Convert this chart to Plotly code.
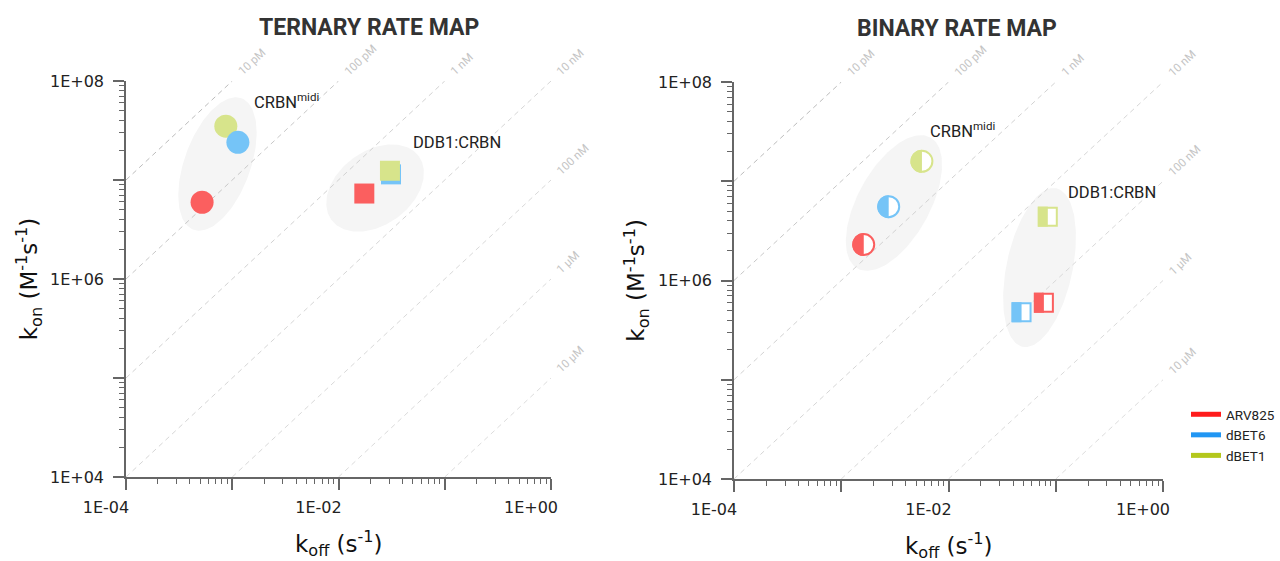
import numpy as np
import plotly.graph_objects as go

W, H = 1280, 561

# ---------------- data ----------------
compounds = ["ARV825", "dBET6", "dBET1"]
legend_colors = ["#ff1c1c", "#2196f3", "#b4c71c"]
marker_colors = ["#fb5f5f", "#75c4f7", "#d7e48b"]

# Ternary complexes (koff in s^-1, kon in M^-1 s^-1), order: ARV825, dBET6, dBET1
ter_midi_koff = [5.2e-4, 1.13e-3, 8.7e-4]
ter_midi_kon = [5.96e6, 2.4e7, 3.5e7]
ter_ddb1_koff = [1.75e-2, 3.12e-2, 3.05e-2]
ter_ddb1_kon = [7.3e6, 1.14e7, 1.24e7]

# Binary complexes
bin_midi_koff = [1.62e-3, 2.77e-3, 5.65e-3]
bin_midi_kon = [2.3e6, 5.55e6, 1.59e7]
bin_ddb1_koff = [7.75e-2, 4.8e-2, 8.43e-2]
bin_ddb1_kon = [5.97e5, 4.79e5, 4.4e6]

# iso-affinity lines (KD = koff / kon, in M)
kd_values = [1e-11, 1e-10, 1e-9, 1e-8, 1e-7, 1e-6, 1e-5]
kd_labels = ["10 pM", "100 pM", "1 nM", "10 nM", "100 nM", "1 µM", "10 µM"]

x_tickvals = [1e-4, 1e-3, 1e-2, 1e-1, 1e0]
x_ticktext = ["1E-04", "", "1E-02", "", "1E+00"]
y_tickvals = [1e4, 1e5, 1e6, 1e7, 1e8]
y_ticktext = ["1E+04", "", "1E+06", "", "1E+08"]

# ---------------- styling / layout ----------------
kd_line_colors = ["#bcbcbc", "#c8c8c8", "#d2d2d2", "#d6d6d6", "#d9d9d9", "#dbdbdb", "#dddddd"]
X_RANGE = [-4, 0]
Y_RANGE = [4, 8]
dom_x1 = [126 / W, 551 / W]
dom_x2 = [734 / W, 1163 / W]
dom_y1 = [1 - 477 / H, 1 - 81 / H]
dom_y2 = [1 - 479 / H, 1 - 82 / H]

# ellipse highlights: (center koff, center kon, semi-major px, semi-minor px, angle deg)
ellipses_ternary = [(7.26e-4, 1.45e7, 70, 33, 70), (2.21e-2, 8.3e6, 54, 37, 36)]
ellipses_binary = [(3.1e-3, 6.04e6, 75, 36, 61), (7.06e-2, 1.35e6, 81, 33, 78)]
ELLIPSE_FILL = "#f5f5f5"

CIRCLE_SIZE = 23
SQUARE_SIZE = 20


def ppd(dom, total, rng):
    return (dom[1] - dom[0]) * total / (rng[1] - rng[0])


ppx1, ppy1 = ppd(dom_x1, W, X_RANGE), ppd(dom_y1, H, Y_RANGE)
ppx2, ppy2 = ppd(dom_x2, W, X_RANGE), ppd(dom_y2, H, Y_RANGE)


def ellipse_xy(cx, cy, a, b, ang, ppx, ppy, n=160):
    t = np.linspace(0, 2 * np.pi, n)
    th = np.radians(ang)
    dx = a * np.cos(t) * np.cos(th) - b * np.sin(t) * np.sin(th)
    dy = a * np.cos(t) * np.sin(th) + b * np.sin(t) * np.cos(th)
    return 10 ** (np.log10(cx) + dx / ppx), 10 ** (np.log10(cy) + dy / ppy)


def left_half(cx, cy, shape, r, ppx, ppy):
    if shape == "circle":
        t = np.linspace(np.pi / 2, 3 * np.pi / 2, 48)
        dx, dy = r * np.cos(t), r * np.sin(t)
    else:
        dx = np.array([0, -r, -r, 0])
        dy = np.array([r, r, -r, -r])
    return list(10 ** (np.log10(cx) + dx / ppx)), list(10 ** (np.log10(cy) + dy / ppy))


fig = go.Figure()

# ellipses
for ell, xa, ya, ppx, ppy in [(ellipses_ternary, "x", "y", ppx1, ppy1),
                               (ellipses_binary, "x2", "y2", ppx2, ppy2)]:
    for (cx, cy, a, b, ang) in ell:
        ex, ey = ellipse_xy(cx, cy, a, b, ang, ppx, ppy)
        fig.add_trace(go.Scatter(x=ex, y=ey, mode="lines", fill="toself",
                                 fillcolor=ELLIPSE_FILL, line=dict(width=0),
                                 hoverinfo="skip", showlegend=False, xaxis=xa, yaxis=ya))

# iso-KD lines
annotations = []
for xa, ya in [("x", "y"), ("x2", "y2")]:
    for kd, lab, col in zip(kd_values, kd_labels, kd_line_colors):
        lk = np.log10(kd)
        x0 = max(X_RANGE[0], Y_RANGE[0] + lk)
        x1 = min(X_RANGE[1], Y_RANGE[1] + lk)
        fig.add_trace(go.Scatter(x=[10 ** x0, 10 ** x1], y=[10 ** (x0 - lk), 10 ** (x1 - lk)],
                                 mode="lines", line=dict(color=col, width=1, dash="5px,4px"),
                                 hoverinfo="skip", showlegend=False, xaxis=xa, yaxis=ya))
        annotations.append(dict(x=x1, y=x1 - lk, xref=xa, yref=ya, text=lab, showarrow=False,
                                textangle=-43, xanchor="left", yanchor="bottom",
                                font=dict(family="Roboto", size=11.5, color="#c4c4c4")))


def add_points(koff, kon, order, symbol, size, xa, ya):
    for i in order:
        fig.add_trace(go.Scatter(x=[koff[i]], y=[kon[i]], mode="markers",
                                 marker=dict(symbol=symbol, size=size, color=marker_colors[i]),
                                 name=compounds[i], showlegend=False, xaxis=xa, yaxis=ya))


# ternary: filled symbols
add_points(ter_midi_koff, ter_midi_kon, [0, 2, 1], "circle", CIRCLE_SIZE, "x", "y")
add_points(ter_ddb1_koff, ter_ddb1_kon, [0, 1, 2], "square", SQUARE_SIZE, "x", "y")

# binary: half-filled symbols
for koff, kon, symbol, size in [(bin_midi_koff, bin_midi_kon, "circle", CIRCLE_SIZE),
                                (bin_ddb1_koff, bin_ddb1_kon, "square", SQUARE_SIZE)]:
    for i in range(3):
        fig.add_trace(go.Scatter(x=[koff[i]], y=[kon[i]], mode="markers",
                                 marker=dict(symbol=symbol, size=size - 2, color="white",
                                             line=dict(color=marker_colors[i], width=2)),
                                 name=compounds[i], showlegend=False, xaxis="x2", yaxis="y2"))
        hx, hy = left_half(koff[i], kon[i], symbol, size / 2, ppx2, ppy2)
        fig.add_trace(go.Scatter(x=hx, y=hy, mode="lines", fill="toself",
                                 fillcolor=marker_colors[i], line=dict(width=0),
                                 hoverinfo="skip", showlegend=False, xaxis="x2", yaxis="y2"))

# legend entries
for name, col in zip(compounds, legend_colors):
    fig.add_trace(go.Scatter(x=[None], y=[None], mode="lines", name=name,
                             line=dict(color=col, width=5), xaxis="x2", yaxis="y2"))

# labels
label_font = dict(family="Roboto", size=16.5, color="#222")
for xa, ya, pos in [("x", "y", [(-2.814, 7.798, "CRBN<sup>midi</sup>"), (-1.318, 7.374, "DDB1:CRBN")]),
                    ("x2", "y2", [(-2.191, 7.516, "CRBN<sup>midi</sup>"), (-0.904, 6.882, "DDB1:CRBN")])]:
    for (lx, ly, txt) in pos:
        annotations.append(dict(x=lx, y=ly, xref=xa, yref=ya, text=txt, showarrow=False,
                                xanchor="left", yanchor="middle", font=label_font))

title_font = dict(family="Roboto", size=23, color="#333")
annotations.append(dict(x=0.572, y=1.136, xref="x domain", yref="y domain", text="<b>TERNARY RATE MAP</b>",
                        showarrow=False, xanchor="center", yanchor="middle", font=title_font))
annotations.append(dict(x=0.52, y=1.136, xref="x2 domain", yref="y2 domain", text="<b>BINARY RATE MAP</b>",
                        showarrow=False, xanchor="center", yanchor="middle", font=title_font))

axis_title_font = dict(family="DejaVu Sans", size=23, color="#111")
for xd, yd, yx in [("x domain", "y domain", -0.23), ("x2 domain", "y2 domain", -0.228)]:
    annotations.append(dict(x=0.5, y=-0.167, xref=xd, yref=yd,
                            text="k<sub>off</sub> (s<sup>-1</sup>)", showarrow=False,
                            xanchor="center", yanchor="middle", font=axis_title_font))
    annotations.append(dict(x=yx, y=0.5, xref=xd, yref=yd, textangle=-90,
                            text="k<sub>on</sub> (M<sup>-1</sup>s<sup>-1</sup>)", showarrow=False,
                            xanchor="center", yanchor="middle", font=axis_title_font))

minor_x = [k * 10.0 ** e for e in range(-4, 0) for k in range(2, 10)]
minor_y = [k * 10.0 ** e for e in range(4, 8) for k in range(2, 10)]
axis_color = "#666"
tick_font = dict(family="DejaVu Sans", size=16, color="#222")


def xaxis_cfg(dom, anchor):
    return dict(type="log", range=X_RANGE, domain=dom, anchor=anchor, showline=True,
                linecolor=axis_color, linewidth=1.5, ticks="outside", ticklen=11, tickwidth=1.5,
                tickcolor=axis_color, tickmode="array", tickvals=x_tickvals, ticktext=x_ticktext,
                minor=dict(ticks="outside", ticklen=5, tickwidth=1.2, tickcolor=axis_color,
                           tickmode="array", tickvals=minor_x, showgrid=False),
                showgrid=False, zeroline=False, tickfont=tick_font, ticklabelshift=-20,
                ticklabelstandoff=4, automargin=False)


def yaxis_cfg(dom, anchor):
    return dict(type="log", range=Y_RANGE, domain=dom, anchor=anchor, showline=True,
                linecolor=axis_color, linewidth=1.5, ticks="outside", ticklen=11, tickwidth=1.5,
                tickcolor=axis_color, tickmode="array", tickvals=y_tickvals, ticktext=y_ticktext,
                minor=dict(ticks="outside", ticklen=5, tickwidth=1.2, tickcolor=axis_color,
                           tickmode="array", tickvals=minor_y, showgrid=False),
                showgrid=False, zeroline=False, tickfont=tick_font, ticklabelstandoff=6,
                automargin=False)


fig.update_layout(
    width=W, height=H,
    margin=dict(l=0, r=0, t=0, b=0, autoexpand=False),
    paper_bgcolor="white", plot_bgcolor="white",
    xaxis=xaxis_cfg(dom_x1, "y"), yaxis=yaxis_cfg(dom_y1, "x"),
    xaxis2=xaxis_cfg(dom_x2, "y2"), yaxis2=yaxis_cfg(dom_y2, "x2"),
    annotations=annotations,
    showlegend=True,
    legend=dict(x=1186 / W, y=1 - 399 / H, xanchor="left", yanchor="top",
                font=dict(family="Roboto", size=13.5, color="#222"),
                bgcolor="rgba(0,0,0,0)", tracegroupgap=0),
)

fig.write_html("out.html", config={"displayModeBar": False},
               post_script="document.body.style.margin='0px';")
